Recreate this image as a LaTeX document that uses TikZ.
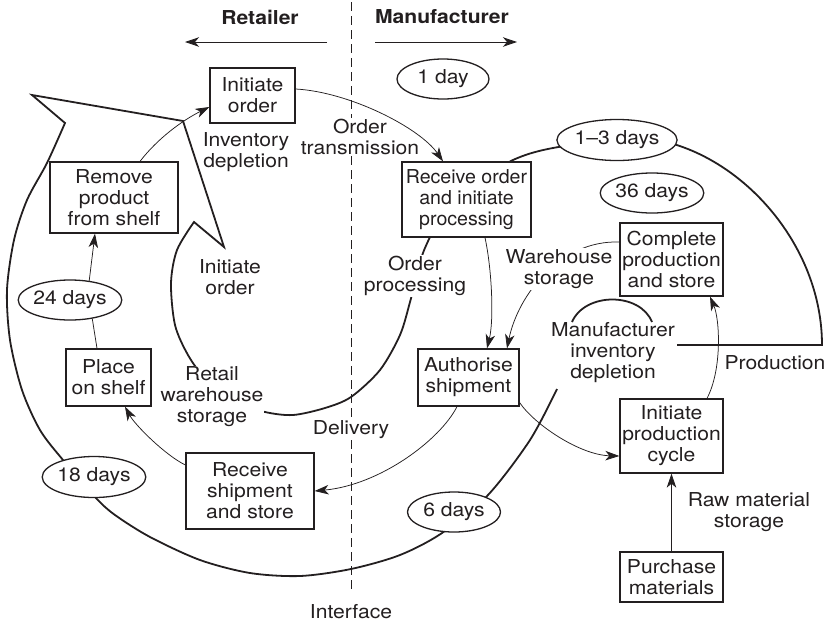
\documentclass[tikz,border=0pt]{standalone}
\usepackage{fontspec}
\setmainfont{TeX Gyre Heros}[FakeStretch=1.1]
\newfontfamily\narrowfont{TeX Gyre Heros}[FakeStretch=1.02]
\usetikzlibrary{arrows.meta,shapes.geometric,backgrounds}
\definecolor{ink}{RGB}{35,31,32}
\begin{document}
\begin{tikzpicture}[x=1pt,y=-1pt,
  font=\fontsize{19.2}{21}\selectfont,
  box/.style={draw=ink, line width=1.3pt, align=center, inner sep=0pt, text=ink},
  oval/.style={draw=ink, ellipse, line width=1.3pt, inner sep=0pt, fill=white, text=ink},
  lbl/.style={align=center, inner sep=1pt, text=ink},
  wlbl/.style={lbl, fill=white},
  spiral/.style={draw=ink, line width=1.8pt},
  conn/.style={draw=ink, line width=0.75pt},
  arr/.style={-{Stealth[length=14pt,width=9.5pt,inset=4pt]}},
  ifline/.style={draw=ink, line width=1pt, dash pattern=on 9pt off 5pt}]
\useasboundingbox (0,0) rectangle (831,622);

% headings
\node[lbl] (ret) at (260,17) {\bfseries Retailer};
\node[lbl] (man) at (442,17) {\bfseries Manufacturer};
\coordinate (la1) at (327,42); \coordinate (la2) at (185,42);
\coordinate (ra1) at (375,42); \coordinate (ra2) at (517,42);

% boxes
\node[box, minimum width=85, minimum height=55] (initorder) at (252.5,95.5) {Initiate\\order};
\node[box, minimum width=128, minimum height=71] (remove) at (114,197.5) {Remove\\product\\from shelf};
\node[box, minimum width=85, minimum height=57] (shelf) at (108.5,377.5) {Place\\on shelf};
\node[box, minimum width=128, minimum height=76] (recvship) at (250,491) {Receive\\shipment\\and store};
\node[box, minimum width=129, minimum height=75, font=\fontsize{19.2}{21}\narrowfont] (recv) at (466.5,199.5) {Receive order\\and initiate\\processing};
\node[box, minimum width=103, minimum height=73] (complete) at (671.5,259.5) {Complete\\production\\and store};
\node[box, minimum width=101, minimum height=57] (auth) at (468.5,377.5) {Authorise\\shipment};
\node[box, minimum width=103, minimum height=74] (initprod) at (671.5,436) {Initiate\\production\\cycle};
\node[box, minimum width=103, minimum height=50] (purchase) at (671.5,577) {Purchase\\materials};

% time ovals
\node[oval, minimum width=92, minimum height=40] (d1) at (443,79) {1 day};
\node[oval, minimum width=104, minimum height=41] (d13) at (617,140) {1–3 days};
\node[oval, minimum width=103, minimum height=40] (d36) at (652,193) {36 days};
\node[oval, minimum width=91, minimum height=40] (d24) at (70,300) {24 days};
\node[oval, minimum width=92, minimum height=41] (d18) at (94,477) {18 days};
\node[oval, minimum width=93, minimum height=40] (d6) at (454,512) {6 days};

% labels
\node[lbl] (invdep) at (246,152) {Inventory\\depletion};
\node[lbl] (trans) at (360,137) {Order\\transmission};
\node[lbl] (initin) at (230,277) {Initiate\\order};
\node[wlbl] (ordproc) at (415,276) {Order\\processing};
\node[wlbl] (wh) at (559,269) {Warehouse\\storage};
\node[wlbl] (rws) at (212,397) {Retail\\warehouse\\storage};
\node[lbl] (deliv) at (351,430) {Delivery};
\node[lbl] (mid) at (613,353) {Manufacturer\\inventory\\depletion};
\node[lbl] (prod) at (775,363) {Production};
\node[lbl] (raw) at (749,512) {Raw material\\storage};
\node[lbl] (iface) at (351,612) {Interface};

\coordinate (dtop) at (351,2);
\coordinate (dbot) at (351,592);

\begin{scope}[on background layer]
% interface line
\draw[ifline] (dtop) -- (dtop |- trans.north);
\draw[ifline] (dtop |- trans.south) -- (dtop |- deliv.north);
\draw[ifline] (dtop |- deliv.south) -- (dbot);

% heading arrows
\draw[conn, arr, line width=0.9pt] (la1) -- (la2);
\draw[conn, arr, line width=0.9pt] (ra1) -- (ra2);

% spiral
\draw[spiral] plot[smooth] coordinates {(557,389) (530,440) (488,495) (442,533) (400,555) (351,569) (300,576) (250,573) (200,560) (150,537) (115,515) (96,498) (63,460) (40,430) (22,390) (10,340) (7,290) (14,240) (27,200) (47,163) (65,123)}
  -- (32,95) -- (183,121) -- (224,247)
  -- plot[smooth] coordinates {(194,222) (177,250) (171,283) (175,325) (188,355) (205,378) (235,402) (265,412) (293,415) (325,408) (351,397) (380,370) (400,335) (410,302) (417,275) (423,253) (430,237)};
\draw[spiral] ([xshift=43.5pt]recv.north) .. controls (530,152) and (550,146) .. (d13.center)
  -- (670,143) .. controls (750,165) and (822,250) .. (822,345) -- (677,345);
\draw[spiral] (572,322) .. controls (585,292) and (640,292) .. (652,322);

% thin connectors
\draw[conn, arr] ([xshift=26pt]remove.north) .. controls (158,138) and (183,120) .. ([yshift=-11.5pt]initorder.west);
\draw[conn, arr] ([yshift=6.5pt]initorder.east) .. controls (350,92) and (420,128) .. ([xshift=-23.5pt]recv.north);
\draw[conn, arr] ([xshift=18.5pt]recv.south) .. controls (492,270) and (494,320) .. ([xshift=18.5pt]auth.north);
\draw[conn, arr] ([yshift=17.5pt]complete.west) .. controls (560,240) and (518,295) .. ([xshift=38.5pt]auth.north);
\draw[conn, arr] ([xshift=-11.5pt]auth.south) .. controls (440,440) and (380,485) .. (recvship.east);
\draw[conn, arr] ([yshift=4pt]auth.south east) .. controls (535,425) and (580,455) .. ([yshift=-20pt]initprod.west);
\draw[conn, arr] ([xshift=35.5pt]initprod.north) .. controls (722,370) and (720,320) .. ([xshift=38.5pt]complete.south);
\draw[conn, arr] (purchase) -- (initprod);
\draw[conn, arr] ([yshift=26pt]recvship.west) .. controls (165,455) and (135,425) .. ([xshift=16.5pt]shelf.south);
\draw[conn] ([xshift=-11.5pt]shelf.north) -- (d24.-40);
\draw[conn, arr] (d24.45) -- ([xshift=-19pt]remove.south);
\end{scope}
\end{tikzpicture}
\end{document}
